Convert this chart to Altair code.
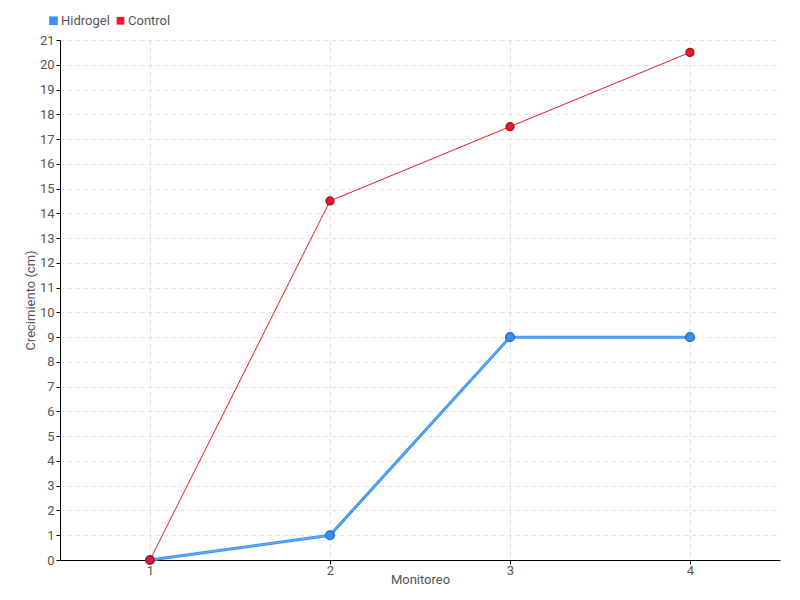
import altair as alt
import pandas as pd

monitoreo = [1, 2, 3, 4]
hidrogel = [0, 1, 9, 9]
control = [0, 14.5, 17.5, 20.5]
series = ["Hidrogel", "Control"]
colors = ["#3a92f0", "#e8192c"]
strokes = ["#2a6fc0", "#b01020"]

rows = []
for s, vals in zip(series, [hidrogel, control]):
    for m, v in zip(monitoreo, vals):
        rows.append({"Monitoreo": m, "Crecimiento": v, "Serie": s})
df = pd.DataFrame(rows)
df_h = df[df["Serie"] == "Hidrogel"]
df_c = df[df["Serie"] == "Control"]

FONT = "Roboto"

x = alt.X("Monitoreo:Q", scale=alt.Scale(domain=[0.5, 4.5], nice=False, zero=False),
          axis=alt.Axis(values=monitoreo, title="Monitoreo", format="d"))
y = alt.Y("Crecimiento:Q", scale=alt.Scale(domain=[0, 21], nice=False),
          axis=alt.Axis(values=list(range(0, 22)), title="Crecimiento (cm)", format="d"))
color = alt.Color("Serie:N", scale=alt.Scale(domain=series, range=colors),
                  sort=series,
                  legend=alt.Legend(title=None, orient="none", legendX=-13, legendY=-26,
                                    direction="horizontal", symbolType="square",
                                    symbolSize=28, symbolStrokeWidth=0,
                                    labelFontSize=13, labelFont=FONT,
                                    labelColor="#555", columnPadding=4, symbolOffset=0,
                                    labelOffset=1))

line_h = alt.Chart(df_h).mark_line(strokeWidth=3).encode(
    x=x, y=y, color=color, order=alt.Order("Monitoreo:Q"),
)
inner = alt.Chart(df_h).mark_line(color="#8cc0ff", strokeWidth=0.8, opacity=0.8).encode(
    x=x, y=y, order=alt.Order("Monitoreo:Q"),
)
line_c = alt.Chart(df_c).mark_line(strokeWidth=1).encode(
    x=x, y=y, color=color, order=alt.Order("Monitoreo:Q"),
)

points = alt.Chart(df).mark_point(filled=True, opacity=1, strokeWidth=1.5).encode(
    x=x, y=y,
    color=alt.Color("Serie:N", scale=alt.Scale(domain=series, range=colors), legend=None),
    stroke=alt.Stroke("Serie:N", scale=alt.Scale(domain=series, range=strokes), legend=None),
    size=alt.Size("Serie:N", scale=alt.Scale(domain=series, range=[75, 60]), legend=None),
)

chart = alt.layer(line_h, inner, line_c, points).properties(
    width=720, height=520,
    autosize=alt.AutoSizeParams(type="none"),
    padding={"left": 52, "top": 32, "right": 12, "bottom": 40},
).configure_view(stroke=None).configure_axis(
    labelFont=FONT, titleFont=FONT, labelFontSize=13, titleFontSize=13,
    labelColor="#555", titleColor="#555", titleFontWeight="normal",
    domainColor="#000", tickColor="#000", tickSize=4,
    gridColor="#dddddd", gridDash=[4, 4], grid=True, labelPadding=2,
).configure_axisY(titlePadding=2).configure_axisX(titleY=13, titleBaseline="top", labelPadding=0)

chart.save("out.html", embed_options={"renderer": "svg", "actions": False})
